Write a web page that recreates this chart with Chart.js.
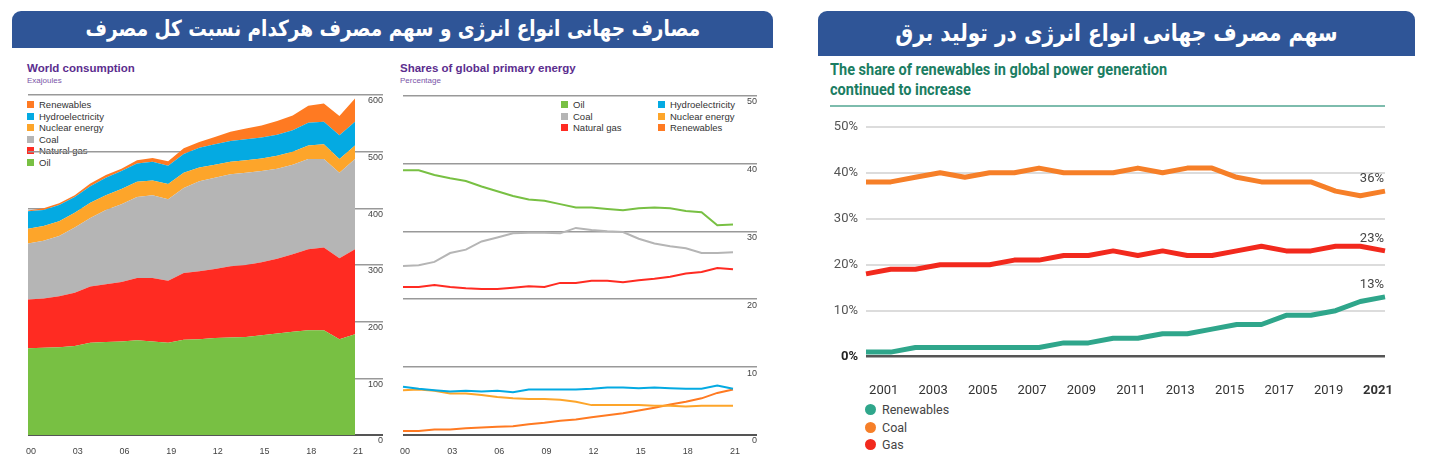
<!DOCTYPE html>
<html>
<head>
<meta charset="utf-8">
<script src="https://cdn.jsdelivr.net/npm/chart.js@4.4.1/dist/chart.umd.min.js"></script>
<style>
  body { margin: 0; background: #fff; width: 1430px; height: 472px; position: relative; overflow: hidden; font-family: Arial, 'Liberation Sans', sans-serif; }
  .banner { position: absolute; background: #2f5597; color: #fff; border-radius: 9px 9px 0 0; text-align: center; font-family: 'DejaVu Sans', sans-serif; font-weight: bold; direction: rtl; white-space: nowrap; }
  .banner span { display: inline-block; transform: scaleX(0.84); }
  #b1 { left: 12px; top: 11px; width: 761px; height: 37px; line-height: 36px; font-size: 22px; }
  #b2 { left: 818px; top: 11px; width: 597px; height: 45px; line-height: 44px; font-size: 24px; }
  .ctitle { position: absolute; color: #5b2d8e; font-weight: bold; font-size: 11.5px; }
  .csub { position: absolute; color: #7a55a8; font-size: 8px; }
  .leg { position: absolute; font-size: 9.5px; color: #333; }
  .leg div { height: 11.5px; line-height: 11.5px; white-space: nowrap; }
  .leg span { display: inline-block; width: 7px; height: 7px; margin-right: 5px; }
  #t3 { position: absolute; left: 830px; top: 60px; width: 555px; color: #1b7d62; font-family: Roboto, Arial, sans-serif; font-weight: bold; font-size: 16.5px; line-height: 20px; padding-bottom: 5px; border-bottom: 2px solid #7dbcad; }
  #t3 div { transform: scaleX(0.88); transform-origin: left; white-space: nowrap; }
  #leg3 { position: absolute; left: 865px; top: 401px; font-family: Roboto, Arial, sans-serif; font-size: 12.5px; color: #444; }
  #leg3 div { height: 17.5px; line-height: 17.5px; }
  #leg3 span { display: inline-block; width: 11px; height: 11px; border-radius: 50%; margin-right: 6px; vertical-align: -1px; }
  canvas { position: absolute; }
</style>
</head>
<body>
<div class="banner" id="b1"><span>مصارف جهانی انواع انرژی و سهم مصرف هرکدام نسبت کل مصرف</span></div>
<div class="banner" id="b2"><span>سهم مصرف جهانی انواع انرژی در تولید برق</span></div>

<div class="ctitle" style="left:27px;top:62px">World consumption</div>
<div class="csub" style="left:27px;top:76px">Exajoules</div>
<div class="ctitle" style="left:400px;top:62px">Shares of global primary energy</div>
<div class="csub" style="left:400px;top:76px">Percentage</div>
<div class="leg" id="leg1" style="left:27px;top:99px"></div>
<div class="leg" id="leg2a" style="left:561px;top:99px"></div>
<div class="leg" id="leg2b" style="left:658px;top:99px"></div>

<div id="t3"><div>The share of renewables in global power generation</div><div>continued to increase</div></div>
<div id="leg3"></div>

<canvas id="c1" width="370" height="370" style="left:20px;top:85px"></canvas>
<canvas id="c2" width="370" height="370" style="left:395px;top:85px"></canvas>
<canvas id="c3" width="600" height="290" style="left:820px;top:110px"></canvas>

<script>
// ---- data ----
const years = ['2000', '2001', '2002', '2003', '2004', '2005', '2006', '2007', '2008', '2009', '2010',
               '2011', '2012', '2013', '2014', '2015', '2016', '2017', '2018', '2019', '2020', '2021'];

// World consumption, exajoules (stacked layers)
const energyNames = ['Oil', 'Natural gas', 'Coal', 'Nuclear energy', 'Hydroelectricity', 'Renewables'];
const oilEJ = [153, 154, 155, 157, 163, 164, 165, 167, 165, 163, 168, 169, 171, 172, 173, 176, 179, 182, 185, 185, 169, 178];
const gasEJ = [86, 87, 90, 94, 99, 102, 105, 110, 112, 109, 118, 120, 122, 126, 127, 129, 132, 137, 143, 146, 143, 150];
const coalEJ = [99, 102, 106, 115, 121, 131, 137, 143, 146, 144, 150, 159, 161, 162, 163, 161, 159, 158, 159, 156, 151, 159];
const nuclearEJ = [26, 26, 26, 26, 27, 26, 27, 27, 26, 27, 27, 24, 23, 22, 22, 22, 23, 23, 24, 26, 24, 24];
const hydroEJ = [31, 28, 29, 28, 29, 31, 32, 32, 33, 32, 33, 35, 36, 37, 37, 37, 37, 38, 40, 40, 42, 42];
const renewEJ = [1, 3, 3, 3, 5, 5, 4, 6, 7, 8, 10, 10, 13, 16, 19, 21, 24, 26, 30, 32, 34, 41];
const consumptionTicks = ['00', '03', '06', '19', '12', '15', '18', '21'];

// Shares of global primary energy, percent
const oilShare = [39.0, 39.0, 38.3, 37.8, 37.4, 36.6, 35.9, 35.2, 34.7, 34.5, 34.0, 33.5, 33.5, 33.3, 33.1, 33.4, 33.5, 33.4, 33.0, 32.8, 30.9, 31.0];
const coalShare = [24.9, 25.0, 25.5, 26.8, 27.3, 28.5, 29.1, 29.7, 29.8, 29.8, 29.7, 30.5, 30.2, 30.0, 29.9, 28.9, 28.2, 27.8, 27.5, 26.8, 26.8, 26.9];
const gasShare = [21.8, 21.8, 22.1, 21.8, 21.6, 21.5, 21.5, 21.7, 21.9, 21.8, 22.4, 22.4, 22.7, 22.7, 22.5, 22.8, 23.0, 23.3, 23.8, 24.0, 24.6, 24.4];
const hydroShare = [7.1, 6.8, 6.6, 6.4, 6.5, 6.4, 6.5, 6.3, 6.7, 6.7, 6.7, 6.7, 6.8, 7.0, 7.0, 6.9, 7.0, 6.9, 6.8, 6.8, 7.3, 6.8];
const nuclearShare = [6.6, 6.7, 6.5, 6.1, 6.1, 5.9, 5.6, 5.4, 5.3, 5.3, 5.2, 4.9, 4.4, 4.4, 4.4, 4.4, 4.3, 4.3, 4.2, 4.3, 4.3, 4.3];
const renewShare = [0.6, 0.6, 0.8, 0.8, 1.0, 1.1, 1.2, 1.3, 1.6, 1.8, 2.1, 2.3, 2.6, 2.9, 3.2, 3.6, 4.0, 4.5, 4.9, 5.4, 6.2, 6.7];

// Share in global power generation, percent
const powerNames = ['Renewables', 'Coal', 'Gas'];
const renewPower = [1, 1, 2, 2, 2, 2, 2, 2, 3, 3, 4, 4, 5, 5, 6, 7, 7, 9, 9, 10, 12, 13];
const coalPower = [38, 38, 39, 40, 39, 40, 40, 41, 40, 40, 40, 41, 40, 41, 41, 39, 38, 38, 38, 36, 35, 36];
const gasPower = [18, 19, 19, 20, 20, 20, 21, 21, 22, 22, 23, 22, 23, 22, 22, 23, 24, 23, 23, 24, 24, 23];

// ---- styles ----
const energyColors = {
    'Oil': '#78c043',
    'Natural gas': '#ff2b22',
    'Coal': '#b5b5b5',
    'Nuclear energy': '#fda52a',
    'Hydroelectricity': '#04aae2',
    'Renewables': '#ff7a22'
};
const powerColors = { 'Renewables': '#2fa68b', 'Coal': '#f67f28', 'Gas': '#f2291d' };

Chart.defaults.font.family = 'Arial, "Liberation Sans", sans-serif';
Chart.defaults.animation = false;
Chart.defaults.responsive = false;
Chart.defaults.events = [];
Chart.defaults.plugins.legend.display = false;
Chart.defaults.plugins.tooltip.enabled = false;

function legendRow(name, color) {
    return '<div><span style="background:' + color + '"></span>' + name + '</div>';
}

// ---- chart 1: stacked areas ----
const consumptionData = [oilEJ, gasEJ, coalEJ, nuclearEJ, hydroEJ, renewEJ];

new Chart(document.getElementById('c1'), {
    type: 'line',
    data: {
        labels: years,
        datasets: energyNames.map((name, i) => ({
            label: name,
            data: consumptionData[i],
            backgroundColor: energyColors[name],
            borderWidth: 0,
            pointRadius: 0,
            fill: i === 0 ? 'origin' : '-1'
        }))
    },
    options: {
        layout: { padding: { left: 7, top: 10, right: 7, bottom: 0 } },
        scales: {
            x: {
                grid: { display: false },
                border: { display: false },
                ticks: {
                    autoSkip: false, maxRotation: 0, padding: 3, color: '#444', font: { size: 9 },
                    labelOffset: 3,
                    callback: (v, i) => (i % 3 === 0 ? consumptionTicks[i / 3] : '')
                },
                afterFit: s => { s.height = 20; }
            },
            y: {
                position: 'right',
                stacked: true,
                min: 0, max: 600,
                border: { display: false },
                grid: {
                    color: c => (c.tick && c.tick.value === 0 ? '#555' : '#999'),
                    lineWidth: c => (c.tick && c.tick.value === 0 ? 2 : 1.5),
                    tickLength: 28
                },
                ticks: { stepSize: 100, color: '#444', font: { size: 9 }, crossAlign: 'far', padding: -15, labelOffset: 6 },
                afterFit: s => { s.width = 28; }
            }
        }
    }
});

document.getElementById('leg1').innerHTML = energyNames.slice().reverse()
    .map(n => legendRow(n, energyColors[n])).join('');

// ---- chart 2: share lines ----
const shareNames = ['Oil', 'Coal', 'Natural gas', 'Hydroelectricity', 'Nuclear energy', 'Renewables'];
const shareData = [oilShare, coalShare, gasShare, hydroShare, nuclearShare, renewShare];

new Chart(document.getElementById('c2'), {
    type: 'line',
    data: {
        labels: years,
        datasets: shareNames.map((name, i) => ({
            label: name,
            data: shareData[i],
            borderColor: energyColors[name],
            borderWidth: 2,
            pointRadius: 0,
            fill: false
        }))
    },
    options: {
        layout: { padding: { left: 5, top: 10.5, right: 8, bottom: 0 } },
        scales: {
            x: {
                grid: { display: false },
                border: { display: false },
                ticks: {
                    autoSkip: false, maxRotation: 0, padding: 3, color: '#444', font: { size: 9 },
                    labelOffset: 2,
                    callback: (v, i) => (i % 3 === 0 ? years[i].slice(2) : '')
                },
                afterFit: s => { s.height = 20; }
            },
            y: {
                position: 'right',
                min: 0, max: 50,
                border: { display: false },
                grid: {
                    color: c => (c.tick && c.tick.value === 0 ? '#555' : '#999'),
                    lineWidth: c => (c.tick && c.tick.value === 0 ? 2 : 1.5),
                    tickLength: 24
                },
                ticks: { stepSize: 10, color: '#444', font: { size: 9 }, crossAlign: 'far', padding: -10, labelOffset: 6 },
                afterFit: s => { s.width = 24; }
            }
        }
    }
});

document.getElementById('leg2a').innerHTML = shareNames.slice(0, 3).map(n => legendRow(n, energyColors[n])).join('');
document.getElementById('leg2b').innerHTML = shareNames.slice(3).map(n => legendRow(n, energyColors[n])).join('');

// ---- chart 3: power generation shares ----
const powerData = [renewPower, coalPower, gasPower];
const narrowFont = 'Roboto, Arial, sans-serif';

const endLabels = {
    id: 'endLabels',
    afterDatasetsDraw(chart) {
        const ctx = chart.ctx;
        ctx.save();
        ctx.font = '13px ' + narrowFont;
        ctx.fillStyle = '#444';
        ctx.textAlign = 'right';
        ctx.textBaseline = 'bottom';
        chart.data.datasets.forEach((ds, i) => {
            const pts = chart.getDatasetMeta(i).data;
            const last = pts[pts.length - 1];
            ctx.fillText(ds.data[ds.data.length - 1] + '%', last.x - 1, last.y - 6);
        });
        ctx.restore();
    }
};

new Chart(document.getElementById('c3'), {
    type: 'line',
    data: {
        labels: years,
        datasets: powerNames.map((name, i) => ({
            label: name,
            data: powerData[i],
            borderColor: powerColors[name],
            borderWidth: 5,
            borderJoinStyle: 'round',
            pointRadius: 0,
            fill: false
        }))
    },
    options: {
        layout: { padding: { left: 0, top: 16.7, right: 35, bottom: 0 } },
        scales: {
            x: {
                grid: { display: false },
                border: { display: false },
                ticks: {
                    autoSkip: false, maxRotation: 0, padding: 18, color: '#333', labelOffset: -7,
                    font: c => ({ family: narrowFont, size: 13, weight: c.index === years.length - 1 ? 'bold' : 'normal' }),
                    callback: (v, i) => (i % 2 === 1 ? years[i] : '')
                },
                afterFit: s => { s.height = 43.3; }
            },
            y: {
                min: 0, max: 50,
                border: { display: false },
                grid: {
                    color: c => (c.tick && c.tick.value === 0 ? '#555' : '#dcdcdc'),
                    lineWidth: c => (c.tick && c.tick.value === 0 ? 2.5 : 2),
                    drawTicks: false
                },
                ticks: {
                    stepSize: 10, padding: 8,
                    color: c => (c.tick && c.tick.value === 0 ? '#222' : '#555'),
                    font: c => ({ family: narrowFont, size: 13, weight: c.tick && c.tick.value === 0 ? 'bold' : 'normal' }),
                    callback: v => v + '%'
                },
                afterFit: s => { s.width = 46; }
            }
        }
    },
    plugins: [endLabels]
});

document.getElementById('leg3').innerHTML = powerNames.map(n => legendRow(n, powerColors[n])).join('');
</script>
</body>
</html>
